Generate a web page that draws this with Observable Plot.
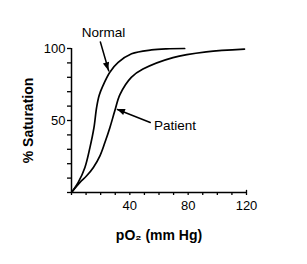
<!DOCTYPE html>
<html><head><meta charset="utf-8">
<script src="https://cdn.jsdelivr.net/npm/d3@7"></script>
<script src="https://cdn.jsdelivr.net/npm/@observablehq/plot@0.6"></script>
<style>body{margin:0;background:#fff;font-family:"Liberation Sans",Arial,sans-serif}</style>
</head><body><div id="chart"></div>
<script>
const normalPO2 = [0, 4.6, 9.2, 12.6, 15.4, 17.2, 19, 21.5, 26.3, 32, 41.2, 54.8, 65, 77.6];
const normalSat = [0, 7, 17.4, 31, 45, 59, 67.5, 74, 83.5, 90.3, 96.3, 99, 99.8, 100];
const patientPO2 = [0, 5.8, 10.4, 15, 19.5, 22.9, 26.3, 29.7, 33.2, 41, 49, 69.6, 92.4, 118.6];
const patientSat = [0, 7, 11.6, 17.4, 25.5, 34.7, 45, 56.7, 68, 80, 85.7, 93.7, 97.7, 99.6];
const xTicks = d3.range(0, 121, 10);
const xLabels = [40, 80, 120];
const yTicks = d3.range(0, 101, 10);
const yLabels = [50, 100];
const notes = [
  {label: "Normal", tx: 22, ty: 111, x1: 19.8, y1: 104.5, x2: 25.5, y2: 84.5},
  {label: "Patient", tx: 71, ty: 46.5, x1: 54, y1: 48.6, x2: 31.5, y2: 57.6}
];
const normal = normalPO2.map((x, i) => ({x, y: normalSat[i]}));
const patient = patientPO2.map((x, i) => ({x, y: patientSat[i]}));

const chart = Plot.plot({
  width: 307, height: 264,
  marginLeft: 71, marginRight: 61, marginTop: 48, marginBottom: 72,
  style: {fontFamily: "'Liberation Sans', Arial, sans-serif", fontSize: "13px", color: "#000", background: "#fff"},
  x: {domain: [0, 120]},
  y: {domain: [0, 100]},
  marks: [
    Plot.axisX({ticks: xTicks, tickSize: 3, tickPadding: 5, stroke: "#000", strokeWidth: 1.3,
      tickFormat: d => xLabels.includes(d) ? d : "", fontSize: 13, label: null}),
    Plot.axisY({ticks: yTicks, tickSize: 4, tickPadding: 2, stroke: "#000", strokeWidth: 1.3,
      tickFormat: d => yLabels.includes(d) ? d : "", fontSize: 13, label: null}),
    Plot.ruleX([120], {y1: 0, y2: 1.5, stroke: "#000", strokeWidth: 1.3}),
    Plot.ruleY([0], {stroke: "#000", strokeWidth: 1.5}),
    Plot.ruleX([0], {stroke: "#000", strokeWidth: 1.5}),
    Plot.line(normal, {x: "x", y: "y", curve: "catmull-rom", stroke: "#000", strokeWidth: 1.7}),
    Plot.line(patient, {x: "x", y: "y", curve: "catmull-rom", stroke: "#000", strokeWidth: 1.7}),
    Plot.arrow(notes, {x1: "x1", y1: "y1", x2: "x2", y2: "y2", stroke: "#000", strokeWidth: 1.5, headLength: 0}),
    Plot.text(notes, {x: "tx", y: "ty", text: "label", fontSize: 13.5, fill: "#000"}),
    Plot.text(["pO₂ (mm Hg)"], {x: 60, y: 0, dy: 43, text: d => d, fontSize: 14, fontWeight: "bold", fill: "#000"}),
    Plot.text(["% Saturation"], {x: 0, y: 50, dx: -43, rotate: -90, text: d => d, fontSize: 14, fontWeight: "bold", fill: "#000"})
  ]
});

// filled arrowheads placed through the plot's own x/y scales
const sx = chart.scale("x"), sy = chart.scale("y");
const X = d3.scaleLinear(sx.domain, sx.range), Y = d3.scaleLinear(sy.domain, sy.range);
const heads = d3.select(chart).append("g").attr("fill", "#000");
for (const n of notes) {
  const x1 = X(n.x1), y1 = Y(n.y1), x2 = X(n.x2), y2 = Y(n.y2);
  const a = Math.atan2(y2 - y1, x2 - x1), L = 8, W = 3.2;
  const bx = x2 - L * Math.cos(a), by = y2 - L * Math.sin(a);
  const px = -Math.sin(a) * W, py = Math.cos(a) * W;
  heads.append("path").attr("d", `M${x2},${y2}L${bx + px},${by + py}L${bx - px},${by - py}Z`);
}
document.getElementById("chart").append(chart);
</script></body></html>
